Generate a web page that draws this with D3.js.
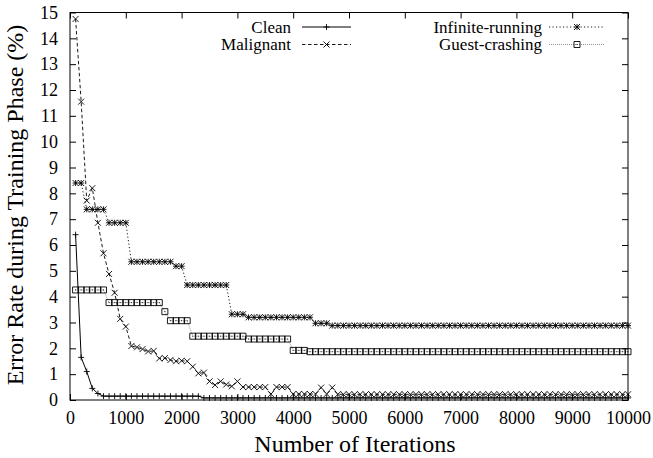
<!DOCTYPE html>
<html>
<head>
<meta charset="utf-8">
<script src="https://cdn.jsdelivr.net/npm/d3@7"></script>
<style>
  html, body { margin: 0; padding: 0; background: #fff; }
  svg { display: block; }
</style>
</head>
<body>
<svg id="chart" width="653" height="458"></svg>
<script>
// ---- Data ----
const iterations = [
  100,200,300,400,500,600,700,800,900,1000,
  1100,1200,1300,1400,1500,1600,1700,1800,1900,2000,
  2100,2200,2300,2400,2500,2600,2700,2800,2900,3000,
  3100,3200,3300,3400,3500,3600,3700,3800,3900,4000,
  4100,4200,4300,4400,4500,4600,4700,4800,4900,5000,
  5100,5200,5300,5400,5500,5600,5700,5800,5900,6000,
  6100,6200,6300,6400,6500,6600,6700,6800,6900,7000,
  7100,7200,7300,7400,7500,7600,7700,7800,7900,8000,
  8100,8200,8300,8400,8500,8600,8700,8800,8900,9000,
  9100,9200,9300,9400,9500,9600,9700,9800,9900,10000
];

const cleanValues = [
  6.4,1.65,1.1,0.45,0.25,0.15,0.15,0.15,0.15,0.15,
  0.15,0.15,0.15,0.15,0.15,0.15,0.15,0.15,0.15,0.15,
  0.15,0.15,0.15,0.08,0.08,0.08,0.08,0.08,0.08,0.08,
  0.08,0.08,0.08,0.08,0.08,0.08,0.08,0.08,0.08,0.08,
  0.08,0.08,0.08,0.08,0.08,0.08,0.08,0.08,0.08,0.08,
  0.08,0.08,0.08,0.08,0.08,0.08,0.08,0.08,0.08,0.08,
  0.08,0.08,0.08,0.08,0.08,0.08,0.08,0.08,0.08,0.08,
  0.08,0.08,0.08,0.08,0.08,0.08,0.08,0.08,0.08,0.08,
  0.08,0.08,0.08,0.08,0.08,0.08,0.08,0.08,0.08,0.08,
  0.08,0.08,0.08,0.08,0.08,0.08,0.08,0.08,0.08,0.08
];

const malignantValues = [
  14.75,11.55,7.72,8.2,6.86,5.68,4.88,4.15,3.14,2.84,
  2.09,2.04,1.97,1.88,1.9,1.61,1.62,1.55,1.5,1.52,
  1.5,1.29,1.03,1.06,0.72,0.58,0.72,0.6,0.53,0.72,
  0.5,0.5,0.5,0.5,0.5,0.23,0.5,0.5,0.5,0.23,
  0.23,0.23,0.23,0.23,0.48,0.23,0.48,0.22,0.22,0.22,
  0.22,0.22,0.22,0.22,0.22,0.22,0.22,0.22,0.22,0.22,
  0.22,0.22,0.22,0.22,0.22,0.22,0.22,0.22,0.22,0.22,
  0.22,0.22,0.22,0.22,0.22,0.22,0.22,0.22,0.22,0.22,
  0.22,0.22,0.22,0.22,0.22,0.22,0.22,0.22,0.22,0.22,
  0.22,0.22,0.22,0.22,0.22,0.22,0.22,0.22,0.22,0.22
];

const infiniteValues = [
  8.4,8.4,7.38,7.38,7.38,7.38,6.86,6.86,6.86,6.86,
  5.35,5.35,5.35,5.35,5.35,5.35,5.35,5.35,5.18,5.18,
  4.45,4.45,4.45,4.45,4.45,4.45,4.45,4.45,3.32,3.32,
  3.32,3.2,3.2,3.2,3.2,3.2,3.2,3.2,3.2,3.2,
  3.2,3.2,3.2,2.97,2.97,2.97,2.88,2.88,2.88,2.88,
  2.88,2.88,2.88,2.88,2.88,2.88,2.88,2.88,2.88,2.88,
  2.88,2.88,2.88,2.88,2.88,2.88,2.88,2.88,2.88,2.88,
  2.88,2.88,2.88,2.88,2.88,2.88,2.88,2.88,2.88,2.88,
  2.88,2.88,2.88,2.88,2.88,2.88,2.88,2.88,2.88,2.88,
  2.88,2.88,2.88,2.88,2.88,2.88,2.88,2.88,2.88,2.88
];

const guestValues = [
  4.26,4.26,4.26,4.26,4.26,4.26,3.77,3.77,3.77,3.77,
  3.77,3.77,3.77,3.77,3.77,3.77,3.42,3.07,3.07,3.07,
  3.07,2.47,2.47,2.47,2.47,2.47,2.47,2.47,2.47,2.47,
  2.47,2.36,2.36,2.36,2.36,2.36,2.36,2.36,2.36,1.92,
  1.92,1.92,1.87,1.87,1.87,1.87,1.87,1.87,1.87,1.87,
  1.87,1.87,1.87,1.87,1.87,1.87,1.87,1.87,1.87,1.87,
  1.87,1.87,1.87,1.87,1.87,1.87,1.87,1.87,1.87,1.87,
  1.87,1.87,1.87,1.87,1.87,1.87,1.87,1.87,1.87,1.87,
  1.87,1.87,1.87,1.87,1.87,1.87,1.87,1.87,1.87,1.87,
  1.87,1.87,1.87,1.87,1.87,1.87,1.87,1.87,1.87,1.87
];

const seriesNames = ["Clean", "Malignant", "Infinite-running", "Guest-crashing"];
const xTickValues = [0,1000,2000,3000,4000,5000,6000,7000,8000,9000,10000];
const yTickValues = [0,1,2,3,4,5,6,7,8,9,10,11,12,13,14,15];
const xTitle = "Number of Iterations";
const yTitle = "Error Rate during Training Phase (%)";

// ---- Layout ----
const FONT = "'Liberation Serif', 'Times New Roman', serif";
const plotLeft = 70, plotRight = 628, plotTop = 12.5, plotBottom = 400;
const svg = d3.select("#chart").attr("font-family", FONT);

const x = d3.scaleLinear().domain([0, 10000]).range([plotLeft, plotRight]);
const y = d3.scaleLinear().domain([0, 15]).range([plotBottom, plotTop]);

// marker path generators
const R = 3;
const markers = {
  plus: (cx, cy) => `M${cx-R},${cy}H${cx+R}M${cx},${cy-R}V${cy+R}`,
  cross: (cx, cy) => `M${cx-R},${cy-R}L${cx+R},${cy+R}M${cx-R},${cy+R}L${cx+R},${cy-R}`,
  star: (cx, cy) => `M${cx-R},${cy}H${cx+R}M${cx},${cy-R}V${cy+R}M${cx-R},${cy-R}L${cx+R},${cy+R}M${cx-R},${cy+R}L${cx+R},${cy-R}`,
  box: (cx, cy) => `M${cx-R},${cy-R}H${cx+R}V${cy+R}H${cx-R}Z M${cx-0.5},${cy}H${cx+0.5}`
};

const series = [
  { name: seriesNames[0], values: cleanValues, dash: null, color: "#000", marker: "plus", width: 1 },
  { name: seriesNames[1], values: malignantValues, dash: "3.5,2.5", color: "#000", marker: "cross", width: 0.9 },
  { name: seriesNames[2], values: infiniteValues, dash: "1.2,2.3", color: "#000", marker: "star", width: 0.9 },
  { name: seriesNames[3], values: guestValues, dash: "1,1", color: "#888", marker: "box", width: 0.9 }
];

// ---- Axes ----
const fmt = d3.format("d");
const xAxisB = d3.axisBottom(x).tickValues(xTickValues).tickFormat(fmt).tickSizeInner(-6).tickSizeOuter(0).tickPadding(11);
const xAxisT = d3.axisTop(x).tickValues(xTickValues).tickFormat("").tickSizeInner(-6).tickSizeOuter(0);
const yAxisL = d3.axisLeft(y).tickValues(yTickValues).tickFormat(fmt).tickSizeInner(-6).tickSizeOuter(0).tickPadding(12);
const yAxisR = d3.axisRight(y).tickValues(yTickValues).tickFormat("").tickSizeInner(-6).tickSizeOuter(0);

function styleAxis(g) {
  g.attr("font-family", FONT).attr("font-size", 18);
  g.select(".domain").remove();
  g.selectAll(".tick line").attr("stroke", "#000").attr("stroke-width", 1);
  g.selectAll(".tick text").attr("fill", "#000");
}
svg.append("g").attr("transform", `translate(0,${plotBottom})`).call(xAxisB).call(styleAxis);
svg.append("g").attr("transform", `translate(0,${plotTop})`).call(xAxisT).call(styleAxis);
svg.append("g").attr("transform", `translate(${plotLeft},0)`).call(yAxisL).call(styleAxis);
svg.append("g").attr("transform", `translate(${plotRight},0)`).call(yAxisR).call(styleAxis);

// ---- Series ----
const line = d3.line().x(d => x(d[0])).y(d => y(d[1]));
series.forEach(s => {
  const pts = iterations.map((it, i) => [it, s.values[i]]);
  svg.append("path")
    .attr("d", line(pts))
    .attr("fill", "none")
    .attr("stroke", s.color)
    .attr("stroke-width", s.width)
    .attr("stroke-dasharray", s.dash);
  svg.append("path")
    .attr("d", pts.map(p => markers[s.marker](x(p[0]), y(p[1]))).join(""))
    .attr("fill", "none")
    .attr("stroke", "#000")
    .attr("stroke-width", 0.9);
});

// ---- Border ----
svg.append("rect")
  .attr("x", plotLeft).attr("y", plotTop)
  .attr("width", plotRight - plotLeft).attr("height", plotBottom - plotTop)
  .attr("fill", "none").attr("stroke", "#000").attr("stroke-width", 1);

// ---- Legend ----
const legendPos = [
  { textX: 291, lineX1: 302, lineX2: 351, y: 27 },
  { textX: 291, lineX1: 302, lineX2: 351, y: 44.5 },
  { textX: 542, lineX1: 549, lineX2: 605, y: 27 },
  { textX: 542, lineX1: 549, lineX2: 605, y: 44.5 }
];
series.forEach((s, i) => {
  const p = legendPos[i];
  const g = svg.append("g");
  g.append("text")
    .attr("x", p.textX).attr("y", p.y)
    .attr("dy", "0.33em")
    .attr("text-anchor", "end")
    .attr("font-size", 17)
    .attr("fill", "#000")
    .text(s.name);
  g.append("line")
    .attr("x1", p.lineX1).attr("x2", p.lineX2)
    .attr("y1", p.y).attr("y2", p.y)
    .attr("stroke", s.color).attr("stroke-width", s.width)
    .attr("stroke-dasharray", s.dash);
  g.append("path")
    .attr("d", markers[s.marker]((p.lineX1 + p.lineX2) / 2, p.y))
    .attr("fill", "none").attr("stroke", "#000").attr("stroke-width", 0.9);
});

// ---- Titles ----
svg.append("text")
  .attr("x", (plotLeft + plotRight) / 2 + 6).attr("y", 451.5)
  .attr("text-anchor", "middle")
  .attr("font-size", 24)
  .attr("fill", "#000")
  .text(xTitle);
svg.append("text")
  .attr("transform", `translate(23,205) rotate(-90)`)
  .attr("text-anchor", "middle")
  .attr("font-size", 24)
  .attr("fill", "#000")
  .text(yTitle);
</script>
</body>
</html>
